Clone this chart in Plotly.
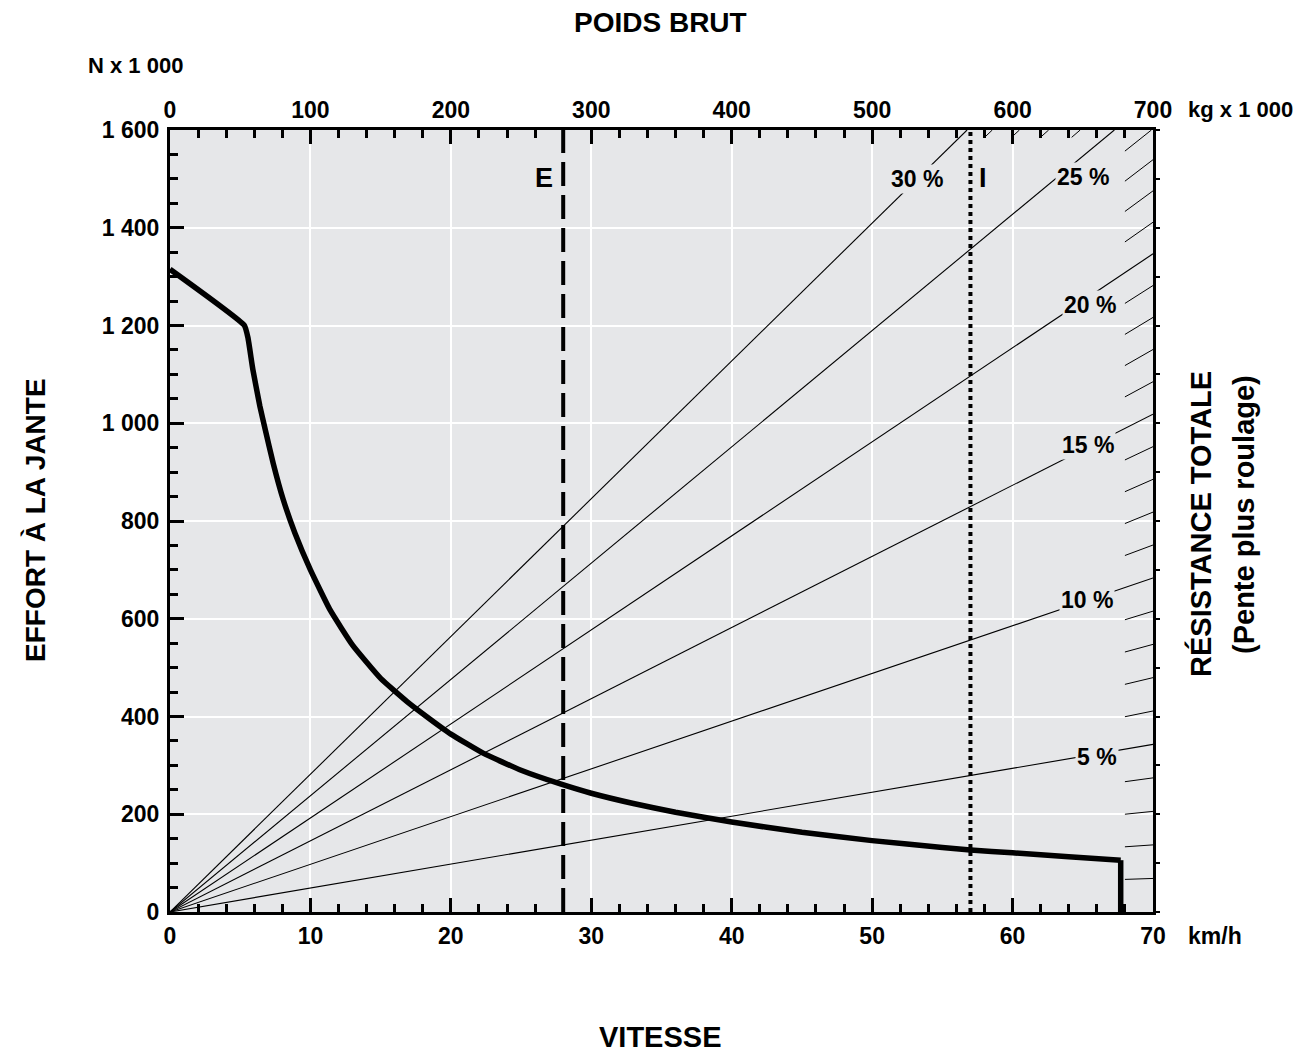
import math
import plotly.graph_objects as go

# ---------------- data ----------------
SPEED_KMH = [0, 5.3, 5.55, 5.9, 6.4, 6.8, 7.35, 8.05, 8.9, 10, 11.4, 13, 15, 16.9, 18.5,
             20, 22.3, 25, 27.8, 30, 33, 36, 40, 45, 50, 55, 57, 60, 64, 67.7, 67.7]
EFFORT_KN = [1315, 1200, 1175, 1110, 1035, 985, 918, 845, 775, 700, 618, 546, 478, 430, 395,
             364, 325, 290, 262, 243, 222, 204, 184, 163, 146, 132, 127, 121, 113, 106, 0]

GRADES_LABELED = [5, 10, 15, 20, 25, 30]          # % lines drawn full length
GRADE_LABEL_W = [660, 653, 654, 655, 650, 532]     # label position along weight axis (t)
GRADE_LABEL_F = [317, 638, 955, 1242, 1504, 1500]  # label position along force axis (kN)
GRADES_STUB = [p for p in range(1, 30) if p % 5]   # 1 % steps shown as short ticks

E_SPEED = 28
I_SPEED = 57
G = 9.81

SPEED_TICKS = list(range(0, 71, 10))
WEIGHT_TICKS = list(range(0, 701, 100))
FORCE_TICKS = list(range(0, 1601, 200))
FORCE_TICKTEXT = ["0", "200", "400", "600", "800", "1 000", "1 200", "1 400", "1 600"]

SPEED_MAX, WEIGHT_MAX, FORCE_MAX = 70, 700, 1600
STUB_W, STUB_F = 680, 1585

FONT = "Liberation Sans, Arial, Roboto, sans-serif"
BG = "#e6e7e9"


def slope(p):
    return G * math.sin(math.atan(p / 100.0))


fig = go.Figure()

# full grade lines
gx, gy = [], []
for p in GRADES_LABELED:
    k = slope(p)
    w_end = min(WEIGHT_MAX, FORCE_MAX / k)
    gx += [0, w_end, None]
    gy += [0, k * w_end, None]
fig.add_trace(go.Scatter(x=gx, y=gy, xaxis="x2", yaxis="y", mode="lines",
                         line=dict(color="black", width=1.1), hoverinfo="skip", showlegend=False))

# short grade ticks at the edges
sx, sy = [], []
for p in GRADES_STUB:
    k = slope(p)
    w_end = min(WEIGHT_MAX, FORCE_MAX / k)
    w_start = min(STUB_W, STUB_F / k)
    sx += [w_start, w_end, None]
    sy += [k * w_start, k * w_end, None]
fig.add_trace(go.Scatter(x=sx, y=sy, xaxis="x2", yaxis="y2", mode="lines",
                         line=dict(color="black", width=1), hoverinfo="skip", showlegend=False))

# E and I vertical lines
fig.add_trace(go.Scatter(x=[E_SPEED, E_SPEED], y=[0, FORCE_MAX], mode="lines",
                         line=dict(color="black", width=4, dash="24px,9px"),
                         hoverinfo="skip", showlegend=False))
fig.add_trace(go.Scatter(x=[I_SPEED, I_SPEED], y=[0, FORCE_MAX], mode="lines",
                         line=dict(color="black", width=4, dash="4px,4px"),
                         hoverinfo="skip", showlegend=False))

# tractive effort curve (smooth part, then the vertical cut-off)
fig.add_trace(go.Scatter(x=SPEED_KMH[:-1], y=EFFORT_KN[:-1], mode="lines",
                         line=dict(color="black", width=5.5, shape="spline", smoothing=0.4),
                         hoverinfo="skip", showlegend=False))
fig.add_trace(go.Scatter(x=SPEED_KMH[-2:], y=EFFORT_KN[-2:], mode="lines",
                         line=dict(color="black", width=5.5), hoverinfo="skip", showlegend=False))

L, R, T, B = 170, 1153, 130, 912


def px_x(px):
    return (px - L) / (R - L)


def px_y(py):
    return (B - py) / (B - T)


tickfont = dict(family=FONT, size=23, color="black", weight="bold")
axis_common = dict(ticks="inside", tickcolor="black", tickwidth=3, ticklen=14,
                   showline=True, linecolor="black", linewidth=3, zeroline=False,
                   tickfont=tickfont, fixedrange=True)

fig.update_layout(
    width=1310, height=1052,
    margin=dict(l=L, r=1310 - R, t=T, b=1052 - B, autoexpand=False),
    paper_bgcolor="white", plot_bgcolor=BG,
    font=dict(family=FONT, color="black"),
    xaxis=dict(range=[0, SPEED_MAX], tickvals=SPEED_TICKS, ticktext=[str(v) for v in SPEED_TICKS],
               showgrid=True, gridcolor="white", gridwidth=1.5, ticklabelstandoff=1,
               minor=dict(dtick=2, ticks="inside", ticklen=8, tickwidth=2.5, tickcolor="black",
                          showgrid=False),
               **axis_common),
    xaxis2=dict(range=[0, WEIGHT_MAX], overlaying="x", side="top", tickvals=WEIGHT_TICKS,
                ticktext=[str(v) for v in WEIGHT_TICKS], showgrid=False, ticklabelstandoff=0,
                minor=dict(dtick=20, ticks="inside", ticklen=8, tickwidth=2.5, tickcolor="black",
                           showgrid=False),
                **axis_common),
    yaxis=dict(range=[0, FORCE_MAX], tickvals=FORCE_TICKS, ticktext=FORCE_TICKTEXT,
               showgrid=True, gridcolor="white", gridwidth=1.5, ticklabelstandoff=3,
               minor=dict(dtick=50, ticks="inside", ticklen=8, tickwidth=2.5, tickcolor="black",
                          showgrid=False),
               **axis_common),
    yaxis2=dict(range=[0, FORCE_MAX], overlaying="y", side="right",
                tickvals=list(range(0, 1601, 100)), ticks="outside", ticklen=4, tickwidth=2,
                tickcolor="black", showticklabels=False, showline=True, linecolor="black",
                linewidth=3, showgrid=False, zeroline=False, fixedrange=True),
)

ann = []


def text(s, px, py, size, angle=0):
    ann.append(dict(text=s, x=px_x(px), y=px_y(py), xref="paper", yref="paper",
                    showarrow=False, textangle=angle, xanchor="center", yanchor="middle",
                    font=dict(family=FONT, size=size, color="black", weight="bold")))


text("POIDS BRUT", 660, 22, 28)
text("VITESSE", 660, 1037, 29)
text("N x 1 000", 135, 66, 22)
text("kg x 1 000", 1240, 109, 22)
text("km/h", 1215, 936, 23)
text("EFFORT À LA JANTE", 35, 520, 28, -90)
text("RÉSISTANCE TOTALE", 1200, 524, 29, -90)
text("(Pente plus roulage)", 1244, 515, 29, -90)
text("E", 544, 178, 27)
text("I", 983, 178, 27)

for p, w, f in zip(GRADES_LABELED, GRADE_LABEL_W, GRADE_LABEL_F):
    ann.append(dict(text=f"{p} %", x=w, y=f, xref="x2", yref="y", showarrow=False,
                    xanchor="center", yanchor="middle", bgcolor=BG, borderpad=1,
                    font=dict(family=FONT, size=23, color="black", weight="bold")))

fig.update_layout(annotations=ann)

fig.write_html("out.html", config={"displayModeBar": False},
               post_script="document.body.style.margin='0';document.body.style.padding='0';")
